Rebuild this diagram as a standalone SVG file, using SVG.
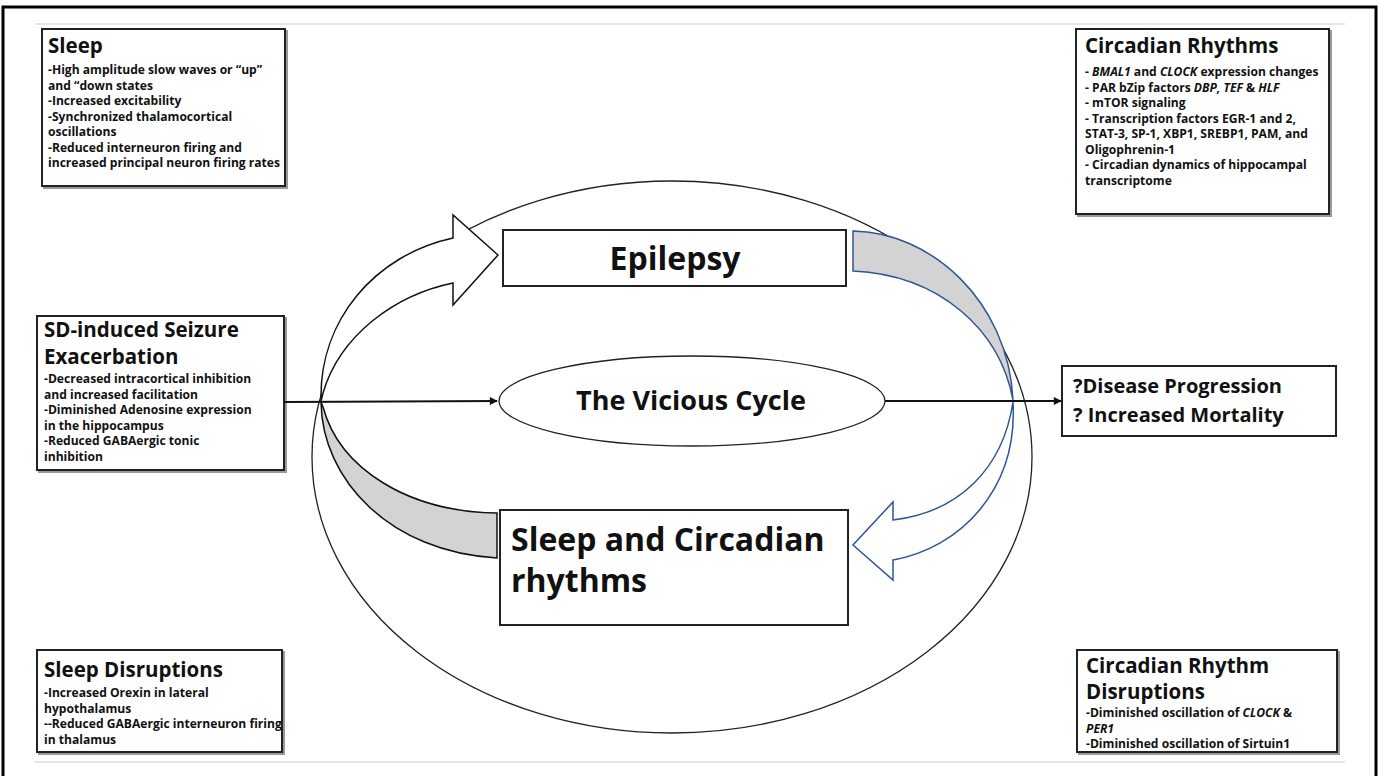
<svg xmlns="http://www.w3.org/2000/svg" width="1380" height="776" viewBox="0 0 1380 776">
<defs>
<marker id="ah" viewBox="0 0 10 10" refX="9" refY="5" markerWidth="10" markerHeight="8" markerUnits="userSpaceOnUse" orient="auto">
<path d="M0,0 L10,5 L0,10 Z" fill="#111"/>
</marker>
</defs>
<style>
text{font-family:"Open Sans","Liberation Sans",sans-serif;font-weight:700;fill:#111}
.t{font-size:20.5px}
.b{font-size:12.1px}
.i{font-style:italic}
.box{fill:#fff;stroke:#222;stroke-width:2}
.sh{fill:none;stroke:#999;stroke-width:2}
.big{font-size:32px}
.dz{font-size:20px}
</style>
<rect width="1380" height="776" fill="#fff"/>
<path d="M3,776 V7 H1376 V776" fill="none" stroke="#000" stroke-width="3"/>
<line x1="35" y1="24" x2="1345" y2="24" stroke="#ddd" stroke-width="1.5"/>
<line x1="35" y1="762" x2="1345" y2="762" stroke="#ddd" stroke-width="1.5"/>

<g id="outer-ellipse"><ellipse cx="672" cy="457" rx="360" ry="276" fill="none" stroke="#222" stroke-width="1.3"/></g>

<g id="sleep">
<rect class="sh" x="44" y="31" width="243" height="157"/>
<rect class="box" x="42" y="29" width="243" height="157"/>
<text class="t" x="48" y="53">Sleep</text>
<text class="b" x="48" y="74">-High amplitude slow waves or “up”</text>
<text class="b" x="48" y="89.5">and “down states</text>
<text class="b" x="48" y="105">-Increased excitability</text>
<text class="b" x="48" y="120.5">-Synchronized thalamocortical</text>
<text class="b" x="48" y="136">oscillations</text>
<text class="b" x="48" y="151.5">-Reduced interneuron firing and</text>
<text class="b" x="48" y="167">increased principal neuron firing rates</text>
</g>

<g id="circadian">
<rect class="sh" x="1078" y="31" width="253" height="185"/>
<rect class="box" x="1076" y="29" width="253" height="185"/>
<text class="t" x="1085" y="53">Circadian Rhythms</text>
<text class="b" x="1085" y="76">- <tspan class="i">BMAL1</tspan> and <tspan class="i">CLOCK</tspan> expression changes</text>
<text class="b" x="1085" y="91.5">- PAR bZip factors <tspan class="i">DBP, TEF</tspan> &amp; <tspan class="i">HLF</tspan></text>
<text class="b" x="1085" y="107">- mTOR signaling</text>
<text class="b" x="1085" y="122.5">- Transcription factors EGR-1 and 2,</text>
<text class="b" x="1085" y="138">STAT-3, SP-1, XBP1, SREBP1, PAM, and</text>
<text class="b" x="1085" y="153.5">Oligophrenin-1</text>
<text class="b" x="1085" y="169">- Circadian dynamics of hippocampal</text>
<text class="b" x="1085" y="184.5">transcriptome</text>
</g>

<g id="sd">
<rect class="sh" x="39" y="318" width="247" height="154"/>
<rect class="box" x="37" y="316" width="247" height="154"/>
<text class="t" x="44" y="337">SD-induced Seizure</text>
<text class="t" x="44" y="364">Exacerbation</text>
<text class="b" x="44" y="383">-Decreased intracortical inhibition</text>
<text class="b" x="44" y="398.5">and increased facilitation</text>
<text class="b" x="44" y="414">-Diminished Adenosine expression</text>
<text class="b" x="44" y="429.5">in the hippocampus</text>
<text class="b" x="44" y="445">-Reduced GABAergic tonic</text>
<text class="b" x="44" y="460.5">inhibition</text>
</g>

<g id="disease">
<rect class="box" x="1062" y="366" width="274" height="70"/>
<text class="dz" x="1073" y="393">?Disease Progression</text>
<text class="dz" x="1073" y="422">? Increased Mortality</text>
</g>

<g id="sleep-disruptions">
<rect class="sh" x="39" y="652" width="245" height="102"/>
<rect class="box" x="37" y="650" width="245" height="102"/>
<text class="t" x="44" y="677">Sleep Disruptions</text>
<text class="b" x="44" y="697">-Increased Orexin in lateral</text>
<text class="b" x="44" y="712.5">hypothalamus</text>
<text class="b" x="44" y="728">--Reduced GABAergic interneuron firing</text>
<text class="b" x="44" y="743.5">in thalamus</text>
</g>

<g id="circadian-disruptions">
<rect class="sh" x="1079" y="652" width="260" height="102"/>
<rect class="box" x="1077" y="650" width="260" height="102"/>
<text class="t" x="1086" y="673">Circadian Rhythm</text>
<text class="t" x="1086" y="699">Disruptions</text>
<text class="b" x="1086" y="717">-Diminished oscillation of <tspan class="i">CLOCK</tspan> &amp;</text>
<text class="b" x="1086" y="732.5"><tspan class="i">PER1</tspan></text>
<text class="b" x="1086" y="748">-Diminished oscillation of Sirtuin1</text>
</g>

<g id="epilepsy">
<rect class="box" x="503" y="230" width="343" height="56"/>
<text class="big" x="675" y="270" text-anchor="middle">Epilepsy</text>
</g>

<g id="sleep-circadian">
<rect class="box" x="500" y="510" width="348" height="115"/>
<text class="big" x="511" y="551">Sleep and Circadian</text>
<text class="big" x="511" y="592">rhythms</text>
</g>

<g id="vicious">
<ellipse cx="692" cy="401" rx="193" ry="45" fill="#fff" stroke="#222" stroke-width="1.3"/>
<text x="691" y="410" text-anchor="middle" font-size="27">The Vicious Cycle</text>
</g>

<g id="connectors">
<path d="M321,401 C319,320 375,255 453,238 L453,215 L498,255 L453,305 L453,283 C395,295 340,335 323,393 Z" fill="#fff" stroke="#111" stroke-width="1.5" stroke-linejoin="miter"/>
<path d="M321,402 C322,480 390,552 497,558 L497,513 C410,512 340,470 323,407 Z" fill="#d3d3d3" stroke="#111" stroke-width="1.5"/>
<path d="M853,231 C930,232 1008,300 1013,400 C1000,330 940,275 853,271 Z" fill="#d3d3d3" stroke="#2f5597" stroke-width="1.5"/>
<path d="M1013,402 C1018,490 960,548 893,560 L893,580 L853,545 L893,502 L893,520 C960,512 1003,468 1013,402 Z" fill="#fff" stroke="#2f5597" stroke-width="1.5"/>
<line x1="284" y1="402" x2="497" y2="401" stroke="#111" stroke-width="2" marker-end="url(#ah)"/>
<line x1="885" y1="401" x2="1061" y2="401" stroke="#111" stroke-width="2" marker-end="url(#ah)"/>
</g>
</svg>
